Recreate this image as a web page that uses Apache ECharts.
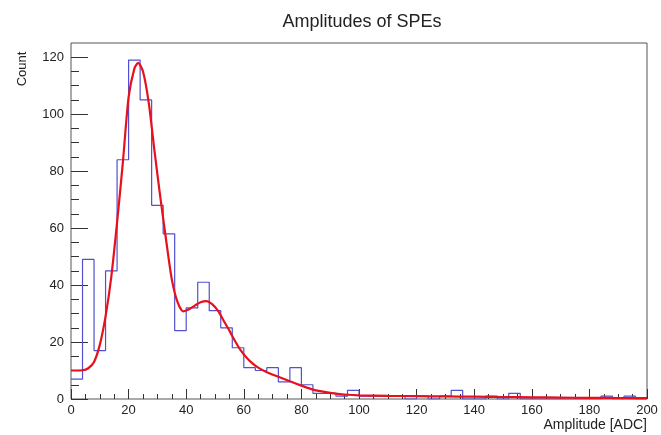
<!DOCTYPE html>
<html>
<head>
<meta charset="utf-8">
<script src="https://cdn.jsdelivr.net/npm/echarts@6/dist/echarts.min.js"></script>
<style>
html,body{margin:0;padding:0;background:#fff;}
#chart{width:661px;height:435px;}
</style>
</head>
<body>
<div id="chart"></div>
<script>
// ---- data ----
const binWidth = 4;
const binLow = [0,4,8,12,16,20,24,28,32,36,40,44,48,52,56,60,64,68,72,76,80,84,88,92,96,
                100,104,108,112,116,120,124,128,132,136,140,144,148,152,156,160,164,168,172,176,180,184,188,192,196];
const counts = [7,49,17,45,84,119,105,68,58,24,32,41,31,25,18,11,10,11,6,11,5,2,2,1,3,
                1,1,1,1,0,1,0,1,3,0,0,1,0,2,0,0,0,0,0,0,0,1,0,1,0];
const fitX = [0,4,6,8,10,12,14,16,18,20,22,23.3,25,27,29,31,33,35,37,39,41,43,45,47,49,51,53,55,57,59,61,63,65,68,72,76,80,84,88,92,96,100,110,120,130,140,150,160,170,180,190,200];
const fitY = [10.0,10.1,10.8,13,19,29,43,62,83,106,116,118,115,104,87,71,56,42,34,30.8,31.5,32.8,34,34.4,33.3,31,27.5,24,20.3,17,14.5,12.5,11,9.4,7.8,6.2,4.7,3.3,2.5,1.9,1.5,1.3,1.1,1.0,0.9,0.8,0.7,0.6,0.5,0.4,0.35,0.3];
const xMajorTicks = [0,20,40,60,80,100,120,140,160,180,200];
const xMinorTicks = [0,5,10,15,20,25,30,35,40,45,50,55,60,65,70,75,80,85,90,95,100,105,110,115,120,125,130,135,140,145,150,155,160,165,170,175,180,185,190,195,200];
const yMajorTicks = [0,20,40,60,80,100,120];
const yMinorTicks = [0,5,10,15,20,25,30,35,40,45,50,55,60,65,70,75,80,85,90,95,100,105,110,115,120];
const titleText = 'Amplitudes of SPEs';
const xName = 'Amplitude [ADC]';
const yName = 'Count';

// ---- build ----
const histData = binLow.map((x, i) => [x, counts[i]]);
histData.push([binLow[binLow.length - 1] + binWidth, counts[counts.length - 1]]);
const fitData = fitX.map((x, i) => [x, fitY[i]]);

const FONT = 'Liberation Sans, Arial, Helvetica, sans-serif';
const tickStyle = { color: '#333', width: 1 };
const labelStyle = { color: '#222', fontSize: 13, fontFamily: FONT };

const chart = echarts.init(document.getElementById('chart'), null, { renderer: 'canvas' });
chart.setOption({
  animation: false,
  backgroundColor: '#fff',
  title: {
    text: titleText, left: 357, top: 8, textAlign: 'center',
    textStyle: { fontFamily: FONT, fontSize: 18, fontWeight: 'normal', color: '#222' }
  },
  grid: {
    left: 71, right: 14, top: 43, bottom: 36,
    show: true, borderColor: '#555', borderWidth: 1, backgroundColor: 'transparent'
  },
  xAxis: [
    {
      type: 'value', min: 0, max: 200, position: 'bottom',
      axisLine: { show: false }, splitLine: { show: false },
      axisTick: { inside: true, length: 10, customValues: xMajorTicks, lineStyle: tickStyle },
      axisLabel: Object.assign({ customValues: xMajorTicks, margin: 5 }, labelStyle)
    },
    {
      type: 'value', min: 0, max: 200, position: 'bottom',
      axisLine: { show: false }, splitLine: { show: false }, axisLabel: { show: false },
      axisTick: { inside: true, length: 5, customValues: xMinorTicks, lineStyle: tickStyle }
    }
  ],
  yAxis: [
    {
      type: 'value', min: 0, max: 125, position: 'left',
      axisLine: { show: false }, splitLine: { show: false },
      axisTick: { inside: true, length: 17, customValues: yMajorTicks, lineStyle: tickStyle },
      axisLabel: Object.assign({ customValues: yMajorTicks, margin: 7 }, labelStyle)
    },
    {
      type: 'value', min: 0, max: 125, position: 'left',
      axisLine: { show: false }, splitLine: { show: false }, axisLabel: { show: false },
      axisTick: { inside: true, length: 8, customValues: yMinorTicks, lineStyle: tickStyle }
    }
  ],
  graphic: [
    { type: 'text', right: 14, top: 418,
      style: { text: xName, font: '14px ' + FONT, fill: '#222' } },
    { type: 'text', x: 22, y: 69, rotation: Math.PI / 2,
      style: { text: yName, font: '13px ' + FONT, fill: '#222', align: 'center', verticalAlign: 'middle' } }
  ],
  series: [
    {
      type: 'line', name: 'hist', xAxisIndex: 0, yAxisIndex: 0,
      data: histData, step: 'end', showSymbol: false, symbol: 'none',
      lineStyle: { color: '#5050d0', width: 1.2 }, z: 2
    },
    {
      type: 'line', name: 'fit', xAxisIndex: 0, yAxisIndex: 0,
      data: fitData, smooth: 0.25, showSymbol: false, symbol: 'none',
      lineStyle: { color: '#e8101c', width: 2.2 }, z: 3
    }
  ]
});
</script>
</body>
</html>
